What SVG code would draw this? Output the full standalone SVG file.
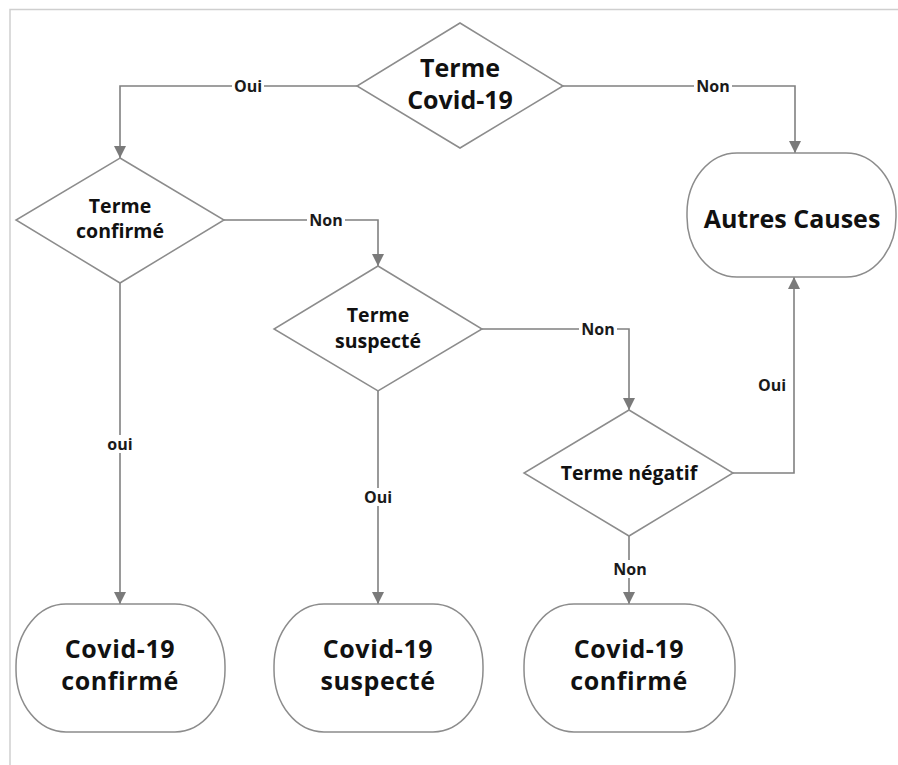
<svg xmlns="http://www.w3.org/2000/svg" width="898" height="765" viewBox="0 0 898 765">
  <defs>
    <marker id="arrow" markerUnits="userSpaceOnUse" markerWidth="12" markerHeight="12" refX="12" refY="6" orient="auto">
      <path d="M0,0 L12,6 L0,12 z" fill="#7a7a7a"/>
    </marker>
    <style>
      .shape { fill: #ffffff; stroke: #8c8c8c; stroke-width: 1.5; }
      .conn { fill: none; stroke: #808080; stroke-width: 1.6; marker-end: url(#arrow); }
      .t { font-family: "Open Sans", "Liberation Sans", sans-serif; font-weight: bold; fill: #111111; text-anchor: middle; }
      .big { font-size: 25px; }
      .term { font-size: 25px; letter-spacing: 0.6px; }
      .mid { font-size: 19.5px; }
      .lbl { font-family: "Open Sans", "Liberation Sans", sans-serif; font-weight: bold; font-size: 16px; fill: #1a1a1a; text-anchor: middle; }
      .bg { fill: #ffffff; }
    </style>
  </defs>
  <rect x="0" y="0" width="898" height="765" fill="#ffffff"/>
  <path d="M10,765 L10,9.5 L898,9.5" fill="none" stroke="#cfcfcf" stroke-width="1.5"/>

  <g id="connectors">
    <path class="conn" d="M357,86 L120,86 L120,158"/>
    <path class="conn" d="M563,86 L795,86 L795,153"/>
    <path class="conn" d="M223,220 L378,220 L378,266"/>
    <path class="conn" d="M120,283 L120,604"/>
    <path class="conn" d="M482,329 L629,329 L629,410"/>
    <path class="conn" d="M378,391 L378,604"/>
    <path class="conn" d="M733,473 L794,473 L794,277"/>
    <path class="conn" d="M629,536 L629,604"/>
    <g id="labels">
      <rect class="bg" x="232" y="78" width="32" height="16"/>
      <text class="lbl" x="248" y="92">Oui</text>
      <rect class="bg" x="694" y="78" width="38" height="16"/>
      <text class="lbl" x="713" y="92">Non</text>
      <rect class="bg" x="307" y="212" width="38" height="16"/>
      <text class="lbl" x="326" y="226">Non</text>
      <rect class="bg" x="579" y="321" width="38" height="16"/>
      <text class="lbl" x="598" y="335">Non</text>
      <rect class="bg" x="104" y="435" width="32" height="18"/>
      <text class="lbl" x="120" y="450">oui</text>
      <rect class="bg" x="362" y="488" width="32" height="18"/>
      <text class="lbl" x="378" y="503">Oui</text>
      <rect class="bg" x="611" y="560" width="38" height="18"/>
      <text class="lbl" x="630" y="575">Non</text>
      <text class="lbl" x="772" y="391">Oui</text>
    </g>
  </g>

  <g id="n-terme-covid">
    <polygon class="shape" points="460,23 563,86 460,148 357,86"/>
    <text class="t big" x="460" y="77">Terme</text>
    <text class="t big" x="460" y="109">Covid-19</text>
  </g>

  <g id="n-autres-causes">
    <rect class="shape" x="687" y="153" width="209" height="124" rx="50" ry="60"/>
    <text class="t big" x="792" y="228">Autres Causes</text>
  </g>

  <g id="n-terme-confirme">
    <polygon class="shape" points="120,158 224,220 120,283 16,220"/>
    <text class="t mid" x="120" y="213">Terme</text>
    <text class="t mid" x="120" y="238">confirmé</text>
  </g>

  <g id="n-terme-suspecte">
    <polygon class="shape" points="378,266 482,329 378,391 274,329"/>
    <text class="t mid" x="378" y="322">Terme</text>
    <text class="t mid" x="378" y="348">suspecté</text>
  </g>

  <g id="n-terme-negatif">
    <polygon class="shape" points="629,410 733,473 629,536 524,473"/>
    <text class="t mid" x="629" y="480">Terme négatif</text>
  </g>

  <g id="n-covid-confirme-1">
    <rect class="shape" x="16" y="604" width="209" height="128" rx="50" ry="62"/>
    <text class="t term" x="120" y="658">Covid-19</text>
    <text class="t term" x="120" y="690">confirmé</text>
  </g>

  <g id="n-covid-suspecte">
    <rect class="shape" x="274" y="604" width="209" height="128" rx="50" ry="62"/>
    <text class="t term" x="378" y="658">Covid-19</text>
    <text class="t term" x="378" y="690">suspecté</text>
  </g>

  <g id="n-covid-confirme-2">
    <rect class="shape" x="524" y="604" width="211" height="128" rx="50" ry="62"/>
    <text class="t term" x="629" y="658">Covid-19</text>
    <text class="t term" x="629" y="690">confirmé</text>
  </g>
</svg>
